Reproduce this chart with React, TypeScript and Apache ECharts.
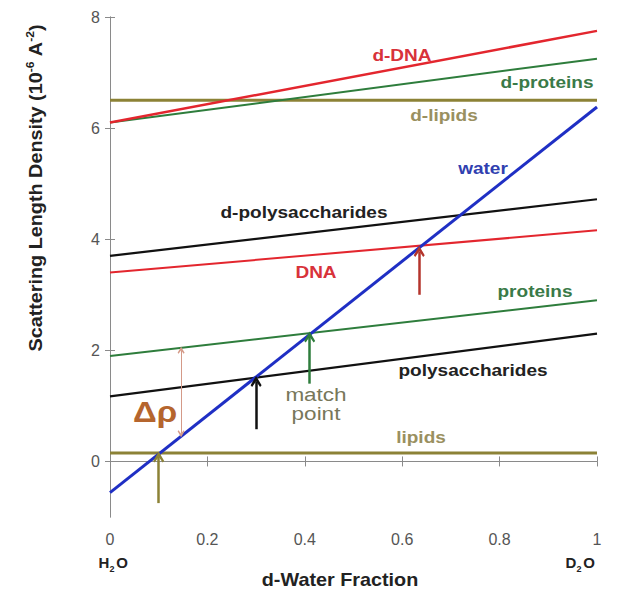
import React, { useEffect, useRef } from "react";
import * as echarts from "echarts";

// ---- data ----
const xEnds = [0, 1];
const dDNA = [6.1, 7.75];
const dProteins = [6.1, 7.25];
const dLipids = [6.5, 6.5];
const water = [-0.56, 6.38];
const dPolysaccharides = [3.7, 4.72];
const dna = [3.4, 4.16];
const proteins = [1.9, 2.9];
const polysaccharides = [1.17, 2.3];
const lipids = [0.15, 0.15];

// match-point arrows: x, start, end
const arrowX = [0.1, 0.3, 0.41, 0.635];
const arrowFrom = [-0.75, 0.58, 1.4, 3.0];
const arrowTo = [0.08, 1.44, 2.24, 3.78];
// delta-rho double arrow
const deltaX = 0.146;
const deltaRange = [0.5, 2.0];

const xTicks = [0, 0.2, 0.4, 0.6, 0.8, 1];
const yTicks = [0, 2, 4, 6, 8];

const FONT = "Liberation Sans, Arial, sans-serif";
const RED = "#e3262e";
const GREEN = "#2e7d3c";
const OLIVE = "#8c8236";
const BLUE = "#1f2fc4";
const BLACK = "#111111";

const CHEVRON = "path://M5,0 L10,7 L8.6,8.2 L5,4 L1.4,8.2 L0,7 Z";

export default function App() {
  const ref = useRef<HTMLDivElement>(null);
  useEffect(() => {
    if (!ref.current) return;
    const chart = echarts.init(ref.current, null, { renderer: "svg" });
    const mk = (name: string, vals: number[], color: string, width: number) => ({
      name,
      type: "line",
      data: xEnds.map((x, i) => [x, vals[i]]),
      symbol: "none",
      lineStyle: { color, width },
      z: 3,
    });
    const arrowColors = [OLIVE, BLACK, GREEN, "#b4352c"];
    const arrowData = arrowX.map((x, i) => ({
      coords: [
        [x, arrowFrom[i]],
        [x, arrowTo[i]],
      ],
      lineStyle: { color: arrowColors[i] },
    }));
    const axisLine = { show: true, lineStyle: { color: "#8a8a8a", width: 1 } };
    const tick = (vals: number[]) => ({
      show: true,
      inside: true,
      length: 5,
      customValues: vals,
      lineStyle: { color: "#8a8a8a" },
    });
    const labelStyle = { color: "#555", fontSize: 16, fontFamily: FONT };
    const txt = (text: string, x: number, y: number, fill: string, opts: any = {}, sx = 1.12) => ({
      type: "text",
      x,
      y,
      scaleX: sx,
      z: 10,
      style: {
        text,
        fill,
        font: `bold 17px ${FONT}`,
        align: "center",
        verticalAlign: "middle",
        ...opts,
      },
    });
    chart.setOption({
      animation: false,
      backgroundColor: "#ffffff",
      grid: { left: 110, right: 30, top: 17, bottom: 83 },
      xAxis: [
        {
          type: "value",
          min: 0,
          max: 1,
          position: "bottom",
          axisLine,
          axisTick: tick(xTicks),
          splitLine: { show: false },
          axisLabel: { ...labelStyle, margin: 14, customValues: xTicks },
        },
        {
          type: "value",
          min: 0,
          max: 1,
          position: "top",
          axisLine,
          axisTick: tick(xTicks),
          splitLine: { show: false },
          axisLabel: { show: false },
        },
      ],
      yAxis: [
        {
          type: "value",
          min: -1,
          max: 8,
          position: "left",
          axisLine,
          axisTick: tick(yTicks),
          splitLine: { show: false },
          axisLabel: { ...labelStyle, margin: 10, customValues: yTicks },
        },
        {
          type: "value",
          min: -1,
          max: 8,
          position: "right",
          axisLine,
          axisTick: tick(yTicks),
          splitLine: { show: false },
          axisLabel: { show: false },
        },
      ],
      series: [
        mk("lipids", lipids, OLIVE, 3),
        mk("d-lipids", dLipids, OLIVE, 3),
        mk("polysaccharides", polysaccharides, BLACK, 2.2),
        mk("proteins", proteins, GREEN, 2),
        mk("DNA", dna, RED, 2),
        mk("d-polysaccharides", dPolysaccharides, BLACK, 2.2),
        mk("d-proteins", dProteins, GREEN, 2),
        mk("d-DNA", dDNA, RED, 2.5),
        { ...mk("water", water, BLUE, 3), z: 4 },
        {
          type: "lines",
          coordinateSystem: "cartesian2d",
          symbol: ["none", CHEVRON],
          symbolSize: [11, 11],
          lineStyle: { width: 2.5, opacity: 1, curveness: 0 },
          data: arrowData,
          z: 5,
        },
        {
          type: "lines",
          coordinateSystem: "cartesian2d",
          symbol: [CHEVRON, CHEVRON],
          symbolSize: [7, 7],
          lineStyle: { width: 1, color: "#d49a88", opacity: 1 },
          data: [
            {
              coords: [
                [deltaX, deltaRange[0]],
                [deltaX, deltaRange[1]],
              ],
            },
          ],
          z: 5,
        },
      ],
      graphic: [
        txt("d-DNA", 402, 55, "#d8323a"),
        txt("d-proteins", 547, 82, "#3a7a48"),
        txt("d-lipids", 444, 115, "#9a9060"),
        txt("water", 483, 168, "#3040b0"),
        txt("d-polysaccharides", 304, 212, "#222"),
        txt("DNA", 316, 272, "#d8323a"),
        txt("proteins", 535, 291, "#3a7a48"),
        txt("polysaccharides", 473, 370, "#222"),
        txt("lipids", 421, 437, "#9a9060"),
        txt("match\npoint", 316, 404, "#77775a", { font: `18px ${FONT}`, lineHeight: 19 }, 1.25),
        txt("Δρ", 155, 412, "#b5652e", { font: `bold 30px ${FONT}` }, 1.1),
        txt("d-Water Fraction", 340, 580, "#222", { font: `bold 18px ${FONT}` }, 1.1),
        txt("H", 104, 562, "#222", { font: `bold 15px ${FONT}` }, 1),
        txt("2", 112, 569, "#222", { font: `bold 9px ${FONT}` }, 1),
        txt("O", 122, 562, "#222", { font: `bold 15px ${FONT}` }, 1),
        txt("D", 571, 562, "#222", { font: `bold 15px ${FONT}` }, 1),
        txt("2", 579, 569, "#222", { font: `bold 9px ${FONT}` }, 1),
        txt("O", 589, 562, "#222", { font: `bold 15px ${FONT}` }, 1),
        {
          type: "text",
          x: 36,
          y: 188,
          rotation: Math.PI / 2,
          scaleX: 1.1,
          z: 10,
          style: {
            text: "{b|Scattering Length Density (10}{s|-6}{b| A}{s|-2}{b|)}",
            align: "center",
            verticalAlign: "middle",
            rich: {
              b: { font: `bold 18px ${FONT}`, fill: "#222", lineHeight: 22 },
              s: { font: `bold 11px ${FONT}`, fill: "#222", lineHeight: 13, verticalAlign: "top" },
            },
          },
        },
      ],
    });
    return () => chart.dispose();
  }, []);
  return (
    <div
      ref={ref}
      style={{ position: "fixed", left: 0, top: 0, width: 627, height: 600 }}
    />
  );
}
